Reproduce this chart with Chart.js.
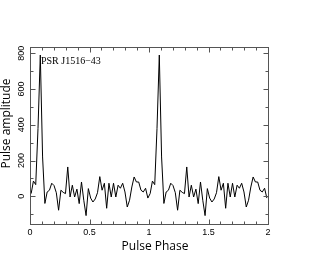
<!DOCTYPE html>
<html lang="en">
<head>
<meta charset="UTF-8">
<title>PSR J1516-43 pulse profile</title>
<script src="https://cdn.jsdelivr.net/npm/chart.js"></script>
<style>
  html, body { margin: 0; padding: 0; background: #fff; }
</style>
</head>
<body>
<canvas id="profileChart" width="331" height="277"></canvas>
<script>
// one period of the folded profile (52 bins)
const profileBins = [
   15,  85,  65, 380, 790, 220, -40,  24,  34,  73,
   60,  20, -78,  34,  22,  15, 164,  -4,  62,  -4,
   40, -41,  80, -22, -108, 43, -10, -32, -15,  20,
  110,  34,  73, -67,  73,  -4,  73,  -4,  62,  45,
   73,  24, -60, -22,  52, 108,  80,  80,  34,  24,
   45, -10
];
const periodsShown = 2;
const xTickLabels = [0, 0.5, 1, 1.5, 2];
const yTickLabels = [0, 200, 400, 600, 800];
const pulsarName = 'PSR J1516\u221243';
const xTitle = 'Pulse Phase';
const yTitle = 'Pulse amplitude';

// the profile is plotted twice, bin centres in phase
const points = [];
for (let p = 0; p < periodsShown; p++) {
    profileBins.forEach((v, i) => {
        points.push({ x: p + (i + 0.5) / profileBins.length, y: v });
    });
}

// pgplot-like box: ticks inside on all four sides, titles and label
const frame = {
    id: 'frame',
    afterDraw(chart) {
        const { ctx, chartArea: a, scales: { x, y } } = chart;
        const L = Math.round(a.left) + 0.5, R = Math.round(a.right) + 0.5;
        const T = Math.round(a.top) + 0.5, B = Math.round(a.bottom) + 0.5;
        ctx.save();
        ctx.strokeStyle = '#555';
        ctx.lineWidth = 1;
        ctx.strokeRect(L, T, R - L, B - T);
        ctx.beginPath();
        for (let k = 0; k <= 20; k++) {
            const px = Math.round(x.getPixelForValue(k * 0.1)) + 0.5;
            const len = k % 5 === 0 ? 5 : 3;
            ctx.moveTo(px, B); ctx.lineTo(px, B - len);
            ctx.moveTo(px, T); ctx.lineTo(px, T + len);
        }
        for (let v = -100; v <= 800; v += 100) {
            const py = Math.round(y.getPixelForValue(v)) + 0.5;
            const len = v % 200 === 0 ? 5 : 3;
            ctx.moveTo(L, py); ctx.lineTo(L + len, py);
            ctx.moveTo(R, py); ctx.lineTo(R - len, py);
        }
        ctx.stroke();

        ctx.fillStyle = '#000';
        ctx.font = '10px "Liberation Serif"';
        ctx.textBaseline = 'alphabetic';
        ctx.textAlign = 'left';
        ctx.fillText(pulsarName, a.left + 11, a.top + 16.5);

        ctx.font = '12px "Open Sans"';
        ctx.textAlign = 'center';
        ctx.fillText(xTitle, 155, 249.5);

        ctx.translate(10, 123.5);
        ctx.rotate(-Math.PI / 2);
        ctx.fillText(yTitle, 0, 0);
        ctx.restore();
    }
};

const ctx = document.getElementById('profileChart').getContext('2d');
const chart = new Chart(ctx, {
    type: 'line',
    data: {
        datasets: [{
            data: points,
            borderColor: '#000',
            borderWidth: 1,
            pointRadius: 0,
            fill: false,
            tension: 0
        }]
    },
    options: {
        responsive: false,
        animation: false,
        devicePixelRatio: 1,
        layout: { padding: { left: 0, top: 47, right: 63, bottom: 0 } },
        plugins: { legend: { display: false }, tooltip: { enabled: false } },
        scales: {
            x: {
                type: 'linear',
                min: 0,
                max: 2,
                grid: { display: false, drawTicks: false },
                border: { display: false },
                afterBuildTicks: s => { s.ticks = xTickLabels.map(v => ({ value: v })); },
                afterFit: s => { s.height = 53; },
                ticks: {
                    padding: 3,
                    autoSkip: false,
                    maxRotation: 0,
                    color: '#000',
                    font: { family: 'Liberation Sans', size: 9 },
                    callback: v => String(v)
                }
            },
            y: {
                type: 'linear',
                min: -155,
                max: 835,
                grid: { display: false, drawTicks: false },
                border: { display: false },
                afterBuildTicks: s => { s.ticks = yTickLabels.map(v => ({ value: v })); },
                afterFit: s => { s.width = 30; },
                ticks: {
                    padding: 1,
                    minRotation: 90,
                    maxRotation: 90,
                    crossAlign: 'center',
                    color: '#000',
                    font: { family: 'Liberation Sans', size: 9 },
                    callback: v => String(v)
                }
            }
        }
    },
    plugins: [frame]
});
</script>
</body>
</html>
